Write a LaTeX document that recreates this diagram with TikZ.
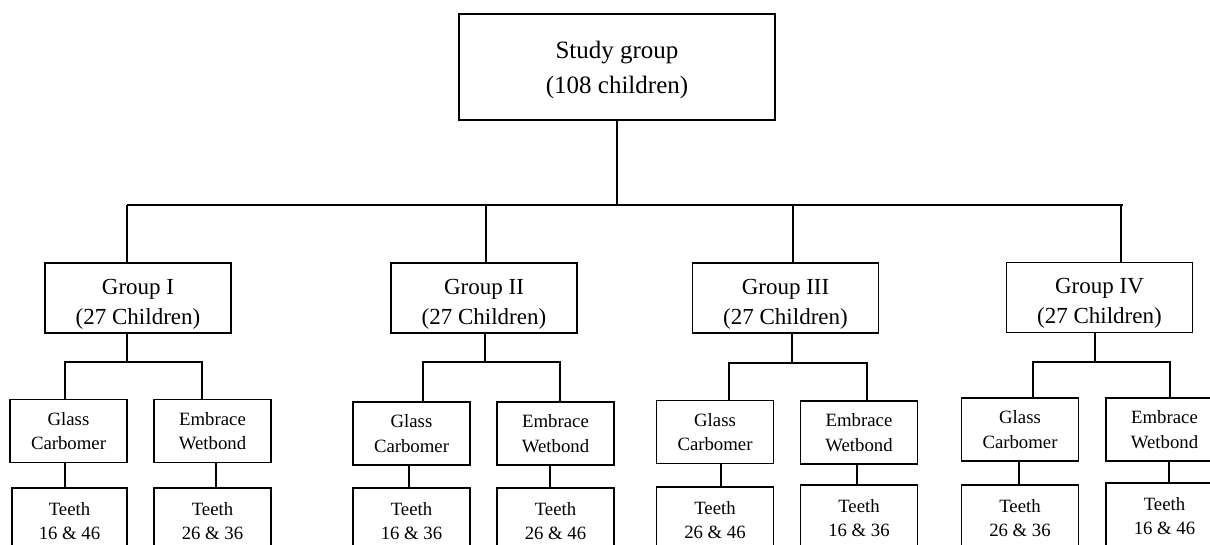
\documentclass[tikz,border=0pt]{standalone}
\usepackage{fontspec}
\setmainfont{Liberation Serif}
\begin{document}
\begin{tikzpicture}[x=1pt,y=-1pt,
  box/.style={draw, line width=1.7pt, inner sep=0pt},
  studybox/.style={box, minimum width=316pt, minimum height=106pt},
  grpbox/.style={box, minimum width=186pt, minimum height=70pt},
  subbox/.style={box, minimum width=117pt, minimum height=63pt, font=\fontsize{18.75}{24.5}\selectfont, align=center},
  teethbox/.style={box, minimum width=117pt, minimum height=66pt, font=\fontsize{18.75}{24}\selectfont, align=center},
  bigtxt/.style={font=\fontsize{25}{35}\selectfont, align=center, inner sep=0pt},
  grptxt/.style={font=\fontsize{23}{30}\selectfont, align=center, inner sep=0pt},
  conn/.style={line width=1.7pt}]
\useasboundingbox (0,0) rectangle (1210,545);
\clip (0,0) rectangle (1210,545);

% top
\node[studybox] (study) at (617,67) {};
\node[bigtxt] (studyt) at (617,69.5) {Study group\\(108 children)};

% groups
\node[grpbox] (g1) at (138,298) {};
\node[grptxt] (g1t) at (138,304) {Group I\\(27 Children)};
\node[grpbox] (g2) at (484,298) {};
\node[grptxt] (g2t) at (484,304) {Group II\\(27 Children)};
\node[grpbox] (g3) at (785.5,298) {};
\node[grptxt] (g3t) at (785.5,304) {Group III\\(27 Children)};
\node[grpbox] (g4) at (1099.5,297.5) {};
\node[grptxt] (g4t) at (1099.5,303.5) {Group IV\\(27 Children)};

% materials
\node[subbox] (s1g) at (68.5,431) {Glass\\Carbomer};
\node[subbox] (s1e) at (212.5,431) {Embrace\\Wetbond};
\node[subbox] (s2g) at (411.5,433.5) {Glass\\Carbomer};
\node[subbox] (s2e) at (555.5,433.5) {Embrace\\Wetbond};
\node[subbox] (s3g) at (715,432) {Glass\\Carbomer};
\node[subbox] (s3e) at (859,432.5) {Embrace\\Wetbond};
\node[subbox] (s4g) at (1020,429.5) {Glass\\Carbomer};
\node[subbox] (s4e) at (1164.5,429.5) {Embrace\\Wetbond};

% teeth
\node[teethbox, minimum width=115pt] (t1g) at (69.5,521) {Teeth\\16 \& 46};
\node[teethbox] (t1e) at (212.5,521) {Teeth\\26 \& 36};
\node[teethbox] (t2g) at (411.5,521) {Teeth\\16 \& 36};
\node[teethbox] (t2e) at (555.5,521) {Teeth\\26 \& 46};
\node[teethbox] (t3g) at (715,520) {Teeth\\26 \& 46};
\node[teethbox] (t3e) at (859,518) {Teeth\\16 \& 36};
\node[teethbox] (t4g) at (1020,518) {Teeth\\26 \& 36};
\node[teethbox] (t4e) at (1164.5,516) {Teeth\\16 \& 46};

% bus
\coordinate (d1) at (127,205);
\coordinate (d2) at (486,205);
\coordinate (d3) at (793,205);
\coordinate (d4) at (1121,205);
\coordinate (busR) at (1123,205);
\draw[conn] (study.south) -- (study.south |- d1);
\draw[conn] (d1) -- (busR);
\draw[conn] (d1) -- (d1 |- g1.north);
\draw[conn] (d2) -- (d2 |- g2.north);
\draw[conn] (d3) -- (d3 |- g3.north);
\draw[conn] (d4) -- (d4 |- g4.north);

% forks
\coordinate (f1) at (127,362);  \coordinate (f1a) at (65,362);   \coordinate (f1b) at (202,362);
\coordinate (f2) at (485,362);  \coordinate (f2a) at (423,362);  \coordinate (f2b) at (560,362);
\coordinate (f3) at (792,363);  \coordinate (f3a) at (729,363);  \coordinate (f3b) at (867,363);
\coordinate (f4) at (1095,362); \coordinate (f4a) at (1033,362); \coordinate (f4b) at (1170,362);
\draw[conn] (f1 |- g1.south) -- (f1);
\draw[conn] (f2 |- g2.south) -- (f2);
\draw[conn] (f3 |- g3.south) -- (f3);
\draw[conn] (f4 |- g4.south) -- (f4);
\draw[conn] (f1a |- s1g.north) -- (f1a) -- (f1b) -- (f1b |- s1e.north);
\draw[conn] (f2a |- s2g.north) -- (f2a) -- (f2b) -- (f2b |- s2e.north);
\draw[conn] (f3a |- s3g.north) -- (f3a) -- (f3b) -- (f3b |- s3e.north);
\draw[conn] (f4a |- s4g.north) -- (f4a) -- (f4b) -- (f4b |- s4e.north);

% material to teeth
\coordinate (x1g) at (65,0);   \coordinate (x1e) at (216,0);
\coordinate (x2g) at (409,0);  \coordinate (x2e) at (550,0);
\coordinate (x3g) at (721,0);  \coordinate (x3e) at (857,0);
\coordinate (x4g) at (1019,0); \coordinate (x4e) at (1169,0);
\draw[conn] (x1g |- s1g.south) -- (x1g |- t1g.north);
\draw[conn] (x1e |- s1e.south) -- (x1e |- t1e.north);
\draw[conn] (x2g |- s2g.south) -- (x2g |- t2g.north);
\draw[conn] (x2e |- s2e.south) -- (x2e |- t2e.north);
\draw[conn] (x3g |- s3g.south) -- (x3g |- t3g.north);
\draw[conn] (x3e |- s3e.south) -- (x3e |- t3e.north);
\draw[conn] (x4g |- s4g.south) -- (x4g |- t4g.north);
\draw[conn] (x4e |- s4e.south) -- (x4e |- t4e.north);
\end{tikzpicture}
\end{document}
